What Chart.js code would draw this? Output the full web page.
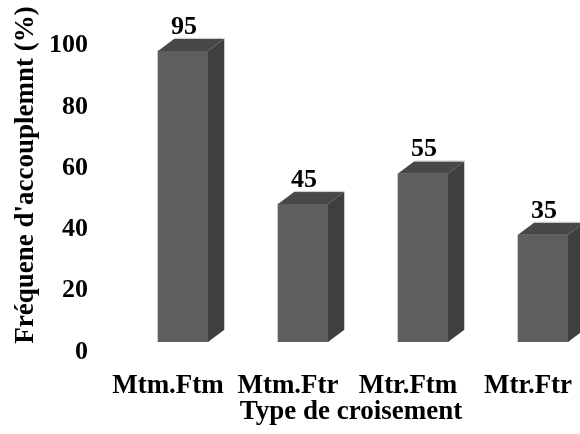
<!DOCTYPE html>
<html>
<head>
<meta charset="utf-8">
<script src="https://cdn.jsdelivr.net/npm/chart.js@4/dist/chart.umd.min.js"></script>
<style>
  html, body { margin: 0; padding: 0; background: #ffffff; overflow: hidden; }
  #wrap { width: 580px; height: 434px; position: relative; }
</style>
</head>
<body>
<div id="wrap"><canvas id="chart" width="580" height="434"></canvas></div>
<script>
// Mating frequency per cross type
const categories = ['Mtm.Ftm', 'Mtm.Ftr', 'Mtr.Ftm', 'Mtr.Ftr'];
const frequencies = [95, 45, 55, 35];
const yTickValues = [0, 20, 40, 60, 80, 100];

const FAMILY = '"Liberation Serif", "Times New Roman", serif';
const FONT = { family: FAMILY, size: 26, weight: 'bold' };
const FONT_LG = { family: FAMILY, size: 27, weight: 'bold' };
const FRONT = '#5e5e5e';
const TOP = '#484848';
const SIDE = '#3f3f3f';
const DEPTH_X = 16;
const DEPTH_Y = 12;

// Draws the top and right faces of each column plus its value label
const columns3d = {
  id: 'columns3d',
  afterDatasetsDraw(chart) {
    const ctx = chart.ctx;
    const meta = chart.getDatasetMeta(0);
    ctx.save();
    meta.data.forEach((bar, i) => {
      const p = bar.getProps(['x', 'y', 'base', 'width'], true);
      const l = p.x - p.width / 2, r = p.x + p.width / 2;
      const t = p.y, b = p.base;
      // top face
      ctx.fillStyle = TOP;
      ctx.beginPath();
      ctx.moveTo(l, t);
      ctx.lineTo(l + DEPTH_X, t - DEPTH_Y);
      ctx.lineTo(r + DEPTH_X, t - DEPTH_Y);
      ctx.lineTo(r, t);
      ctx.closePath();
      ctx.fill();
      // side face
      ctx.fillStyle = SIDE;
      ctx.beginPath();
      ctx.moveTo(r, t);
      ctx.lineTo(r + DEPTH_X, t - DEPTH_Y);
      ctx.lineTo(r + DEPTH_X, b - DEPTH_Y);
      ctx.lineTo(r, b);
      ctx.closePath();
      ctx.fill();
      // faint light rim along the back edges
      ctx.strokeStyle = 'rgba(190,190,190,0.8)';
      ctx.lineWidth = 1;
      ctx.beginPath();
      ctx.moveTo(l + DEPTH_X, t - DEPTH_Y - 0.5);
      ctx.lineTo(r + DEPTH_X + 0.5, t - DEPTH_Y - 0.5);
      ctx.lineTo(r + DEPTH_X + 0.5, b - DEPTH_Y);
      ctx.stroke();
      // value label
      ctx.fillStyle = '#000000';
      ctx.font = `${FONT.weight} ${FONT.size}px ${FONT.family}`;
      ctx.textAlign = 'center';
      ctx.textBaseline = 'alphabetic';
      ctx.fillText(String(frequencies[i]), p.x + 1, t - DEPTH_Y - 5);
    });
    ctx.restore();
  }
};

new Chart(document.getElementById('chart'), {
  type: 'bar',
  data: {
    datasets: [{
      data: frequencies.map((v, i) => ({ x: i, y: v })),
      backgroundColor: FRONT,
      borderWidth: 0,
      barThickness: 50
    }]
  },
  options: {
    responsive: false,
    animation: false,
    events: [],
    layout: { padding: { top: 8, right: 1, left: 0, bottom: 0 } },
    plugins: { legend: { display: false }, tooltip: { enabled: false } },
    scales: {
      x: {
        type: 'linear',
        offset: false,
        min: -0.5,
        max: 3.3,
        grid: { display: false, offset: false },
        border: { display: false },
        afterBuildTicks(scale) { scale.ticks = categories.map((_, i) => ({ value: i })); },
        afterFit(scale) {
          scale.height = 92;
          scale.paddingLeft = 0;
          scale.paddingRight = 0;
        },
        ticks: {
          color: '#000000',
          font: FONT_LG,
          padding: 20,
          labelOffset: -15,
          maxRotation: 0,
          autoSkip: false,
          callback: (v) => categories[v]
        },
        title: {
          display: true,
          text: 'Type de croisement',
          color: '#000000',
          font: FONT_LG,
          padding: { top: 0, bottom: 6 }
        }
      },
      y: {
        min: 0,
        max: 109,
        grid: { display: false },
        border: { display: false },
        afterBuildTicks(scale) { scale.ticks = yTickValues.map(v => ({ value: v })); },
        afterFit(scale) {
          scale.width = 123;
          scale.paddingTop = 0;
          scale.paddingBottom = 0;
        },
        ticks: {
          color: '#000000',
          font: FONT,
          padding: 27,
          labelOffset: 10
        },
        title: {
          display: true,
          text: "Fréquene d'accouplemnt (%)",
          color: '#000000',
          font: FONT_LG,
          padding: { top: 10, bottom: 0 }
        }
      }
    }
  },
  plugins: [columns3d]
});
</script>
</body>
</html>
